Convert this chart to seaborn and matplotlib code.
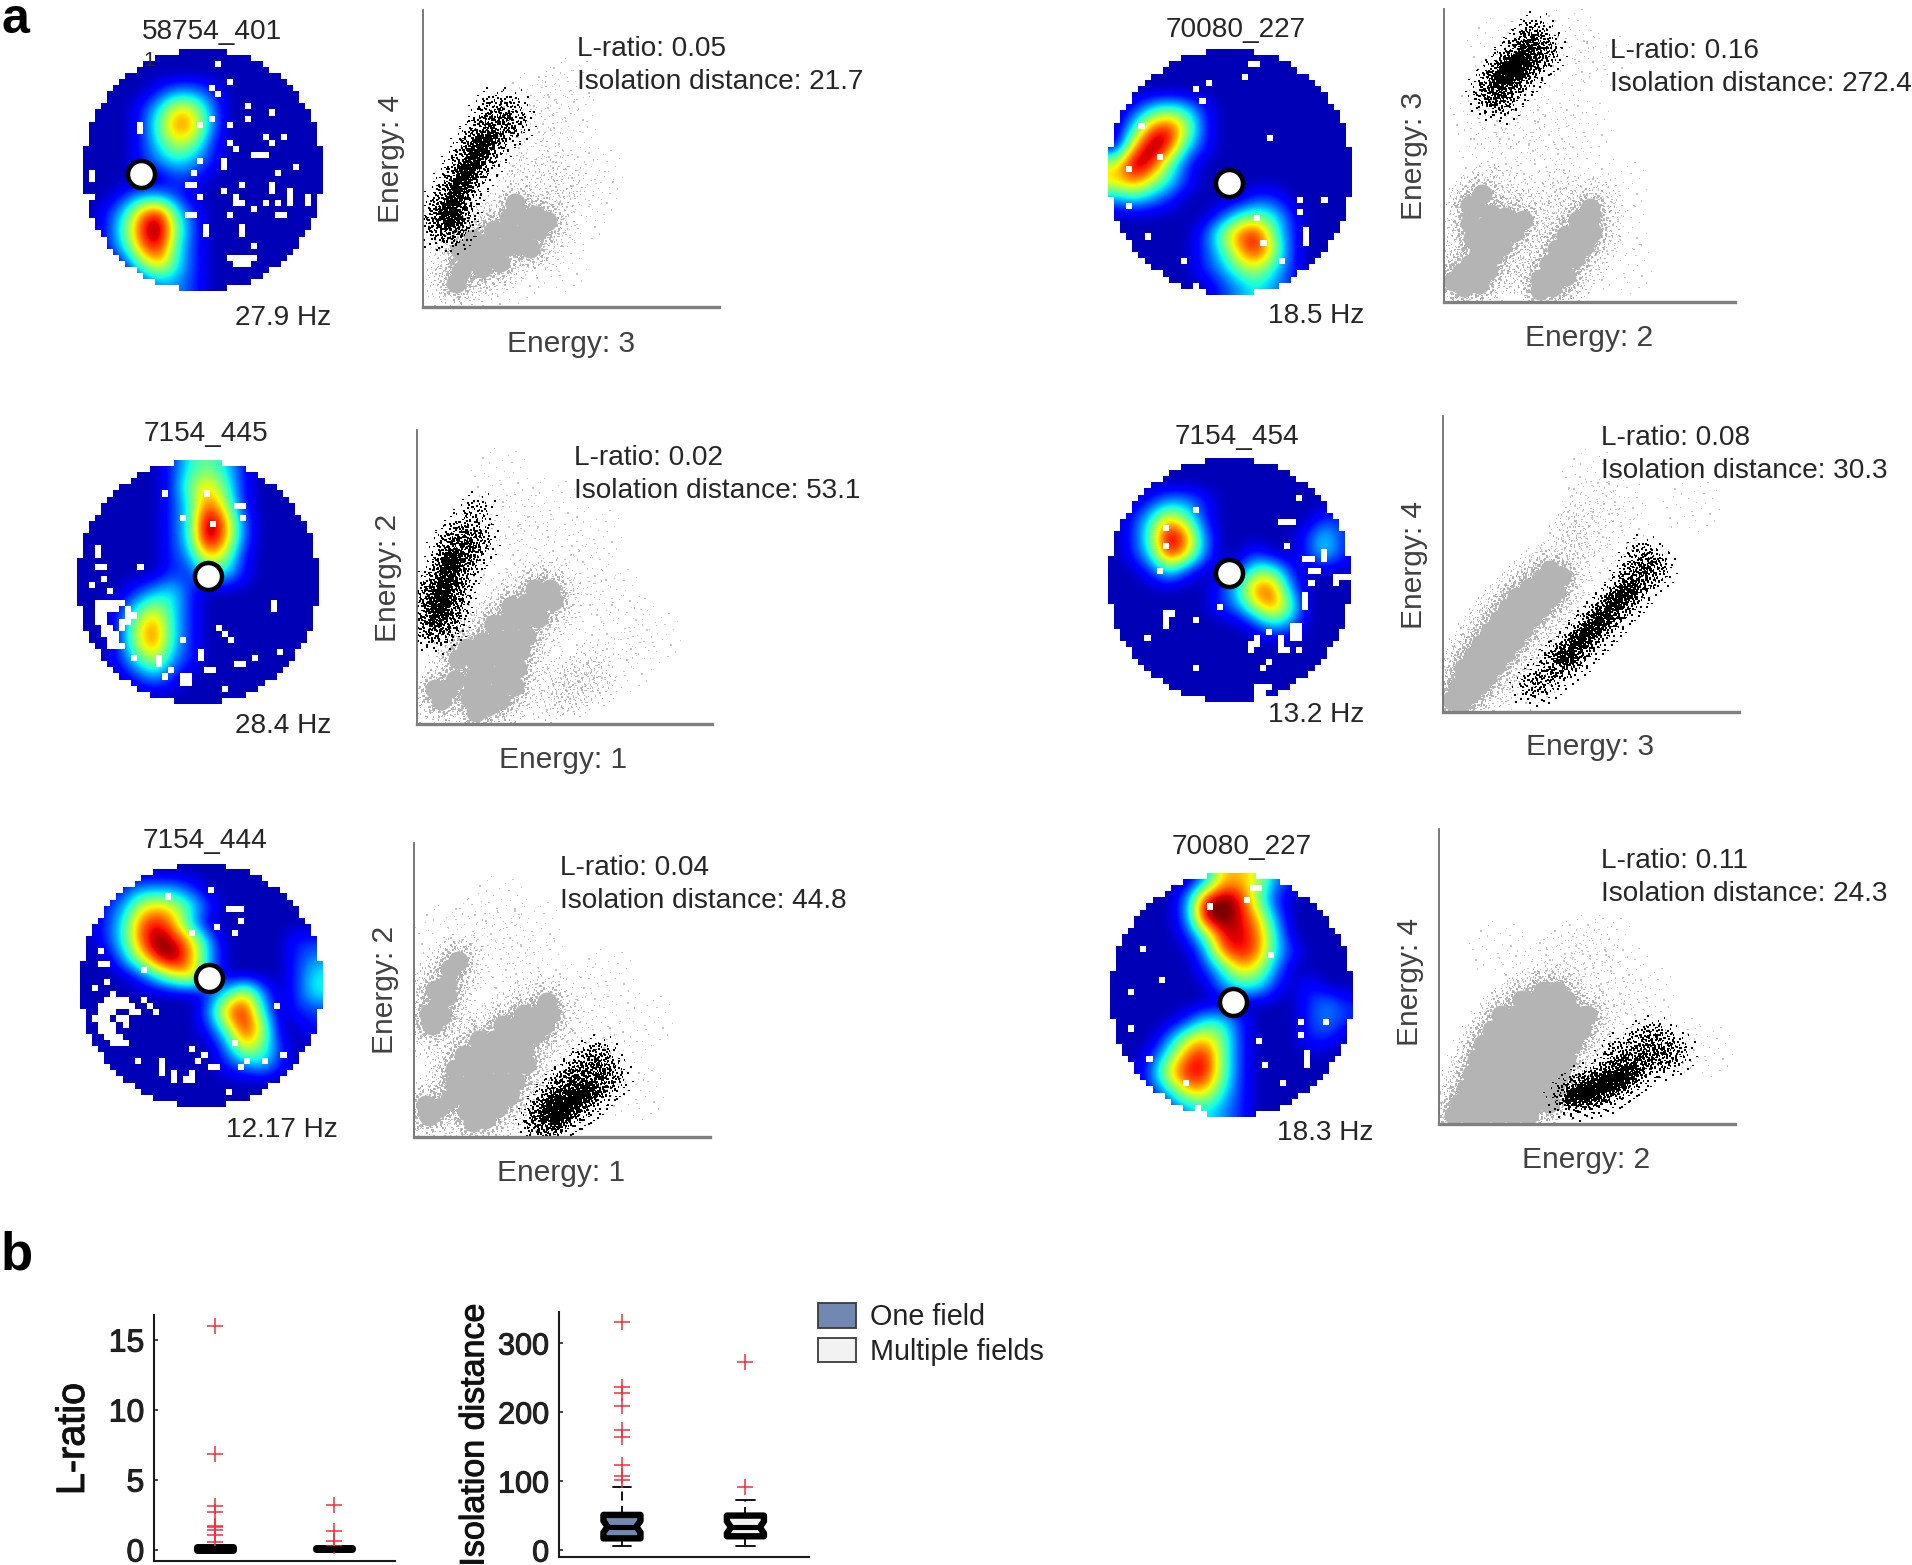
import matplotlib
matplotlib.use("Agg")
import matplotlib.patheffects as pe
import matplotlib.pyplot as plt
from matplotlib.colors import ListedColormap
from matplotlib.patches import Patch
from matplotlib.path import Path
import numpy as np
import pandas as pd
import seaborn as sns

W, H = 1912, 1565
PT = 100 / 72  # pixels per point at dpi 100
S = W / 1568

sns.set_theme(style="white")
plt.rcParams["font.family"] = ["Liberation Sans", "DejaVu Sans"]

# jet without its darkest navy end, bicubic ringing then stays background blue
RATE_CMAP = ListedColormap(plt.get_cmap("jet")(np.linspace(0.05, 1, 256)))

# ── rate maps: coarse grids, 0 = no firing, 9 = peak ──────────────────────────
MAP_1 = ["00000000000000", "00000000000000", "00001221000000", "00013652000000", "00014762000000",
         "00013541000000", "00012321000000", "00000110000000", "00122100000000", "01378310000000",
         "01489410000000", "01378310000000", "00146310000000", "00012210000000"]
MAP_2 = ["00000134310000", "00000146410000", "00000137510000", "00000139720000", "00000139720000",
         "00000126510000", "00000113310000", "00012310000000", "00135310000000", "00157310000000",
         "00157310000000", "00135210000000", "00012100000000", "00000000000000"]
MAP_3 = ["00000000000000", "00122210000000", "01256531000000", "01378620000000", "01379862000011",
         "00258962000012", "00013562000013", "00000001362013", "00000002783011", "00000001485001",
         "00000000264100", "00000000123100", "00000000000000", "00000000000000"]
MAP_4 = ["00000000000000", "00000000000000", "00000000000000", "01343100000000", "03785100000000",
         "06983100000000", "59841000000000", "67531000000000", "23210000110000", "00000013431000",
         "00000147841000", "00000136851000", "00000124531000", "00000012321000"]
MAP_5 = ["00000000000000", "00000000000000", "00122100000000", "01364100000011", "01497200000131",
         "01386200100131", "00131001441000", "00000013772000", "00000012574000", "00000000132000",
         "00000000000000", "00000000000000", "00000000000000", "00000000000000"]
MAP_6 = ["00000266521000", "00002898410000", "00002998620000", "00001488730000", "00000278731000",
         "00000136520000", "00000023310100", "00000000000121", "00001331000121", "00025641000110",
         "00147841000000", "00268841000000", "00136631000000", "00012321000000"]

# unvisited cells (col, row) on the 40 x 40 bin grid
HOLES_1 = [(22, 2), (24, 5), (21, 6), (22, 7), (27, 9), (31, 10), (27, 11), (9, 12), (9, 13), (21, 11), (24, 12),
           (19, 12), (30, 14), (33, 14), (31, 15), (24, 15), (25, 16), (28, 17), (29, 17), (30, 17), (19, 18),
           (23, 18), (23, 19), (35, 19), (1, 20), (1, 21), (18, 20), (17, 22), (18, 22), (32, 20), (31, 22),
           (26, 22), (23, 23), (19, 24), (1, 24), (25, 24), (25, 25), (26, 25), (31, 23), (30, 25), (32, 25),
           (34, 23), (34, 24), (34, 25), (37, 24), (37, 25), (28, 26), (17, 27), (18, 27), (24, 27), (32, 27),
           (33, 27), (26, 29), (26, 30), (20, 29), (20, 30), (28, 32), (24, 34), (25, 34), (26, 34), (27, 34),
           (28, 34), (25, 35), (26, 35), (27, 35)]
HOLES_2 = [(14, 5), (21, 5), (26, 7), (27, 7), (27, 9), (22, 10), (17, 9), (3, 14), (3, 15), (3, 17), (4, 17),
           (10, 17), (2, 20), (4, 19), (5, 21), (3, 23), (4, 23), (5, 23), (6, 23), (7, 23), (3, 24), (4, 24),
           (5, 24), (6, 24), (8, 24), (3, 25), (4, 25), (8, 25), (9, 25), (3, 26), (4, 26), (7, 26), (8, 26),
           (4, 27), (5, 27), (7, 27), (4, 28), (5, 28), (6, 28), (5, 29), (6, 29), (5, 30), (6, 30), (7, 30),
           (32, 23), (32, 24), (23, 27), (24, 28), (25, 29), (17, 29), (20, 31), (20, 32), (9, 32), (13, 32),
           (13, 33), (21, 34), (22, 34), (15, 34), (14, 35), (17, 35), (18, 35), (17, 36), (18, 36), (26, 33),
           (27, 33), (29, 32), (33, 31), (24, 37)]
HOLES_3 = [(14, 5), (21, 4), (24, 7), (25, 7), (26, 7), (26, 9), (22, 10), (18, 11), (25, 11), (3, 14), (3, 16),
           (4, 16), (10, 17), (2, 20), (4, 19), (5, 21), (4, 22), (5, 22), (6, 22), (7, 22), (3, 23), (4, 23),
           (5, 23), (6, 23), (7, 23), (8, 23), (3, 24), (4, 24), (5, 24), (8, 24), (9, 24), (2, 25), (3, 25),
           (4, 25), (6, 25), (7, 25), (3, 26), (4, 26), (5, 26), (7, 26), (3, 27), (4, 27), (5, 27), (4, 28),
           (5, 28), (6, 28), (5, 29), (6, 29), (7, 29), (10, 22), (11, 23), (12, 24), (32, 23), (18, 30),
           (9, 32), (13, 32), (13, 33), (13, 34), (15, 34), (15, 35), (18, 34), (18, 35), (17, 35), (20, 31),
           (19, 32), (21, 33), (22, 33), (27, 32), (26, 33), (30, 32), (33, 31), (24, 37), (25, 29)]
HOLES_4 = [(23, 2), (24, 2), (22, 4), (16, 5), (14, 6), (15, 8), (5, 12), (26, 14), (8, 17), (3, 19), (31, 24),
           (31, 26), (35, 24), (3, 25), (24, 27), (32, 29), (32, 30), (32, 31), (6, 30), (25, 31), (28, 34),
           (12, 34), (14, 38)]
HOLES_5 = [(31, 6), (14, 8), (28, 10), (29, 10), (30, 10), (9, 11), (9, 14), (29, 14), (35, 15), (35, 16), (32, 16),
           (33, 16), (8, 18), (33, 18), (34, 18), (37, 19), (38, 19), (39, 19), (37, 20), (33, 20), (32, 22),
           (32, 23), (32, 24), (18, 24), (9, 25), (10, 25), (9, 26), (9, 27), (14, 26), (30, 27), (31, 27), (30, 28),
           (31, 28), (30, 29), (31, 29), (28, 29), (28, 30), (28, 31), (29, 31), (24, 29), (24, 30), (23, 30),
           (23, 31), (26, 28), (31, 31), (6, 29), (26, 33), (25, 34), (14, 34), (24, 37), (25, 37), (26, 37),
           (24, 38), (25, 38)]
HOLES_6 = [(23, 2), (24, 2), (22, 4), (16, 5), (5, 12), (26, 13), (8, 17), (3, 19), (31, 24), (35, 24), (3, 25),
           (31, 26), (24, 27), (32, 29), (32, 30), (32, 31), (6, 30), (25, 31), (28, 34), (12, 34), (14, 38)]

# ring marker position on the same bin grid
CUE_X = [9.7, 21.7, 21.3, 19.8, 19.9, 20.2]
CUE_Y = [20.6, 19.0, 18.8, 21.8, 18.8, 21.2]

# ── cluster plots: points in percent of the axis ──────────────────────────────
P1_CORE = [(11, 8), (13, 12), (15, 15), (13, 19), (18, 18), (22, 17), (17, 23), (22, 22), (27, 20), (32, 21), (24, 26),
           (29, 25), (34, 25), (39, 26), (29, 30), (34, 30), (38, 31), (31, 35), (42, 29), (20, 13), (26, 15), (36, 20)]
P1_FUZZ = [(20, 10), (30, 14), (38, 20), (46, 26), (47, 36), (42, 40), (35, 45), (44, 48), (50, 42), (30, 47), (10, 22),
           (6, 15), (6, 8), (12, 4), (16, 8), (24, 9), (40, 36), (24, 33), (18, 30), (42, 18)]
P1_SPARSE = [(50, 55), (40, 58), (33, 62), (48, 66), (58, 45), (56, 38), (38, 52), (45, 72), (36, 70), (52, 30),
             (30, 10), (20, 4), (46, 14), (50, 75)]
P1_BLACK = [(6, 26), (8, 30), (6, 33), (10, 35), (13, 33), (8, 38), (12, 40), (15, 40), (11, 44), (15, 46), (18, 45),
            (14, 50), (18, 52), (21, 50), (17, 56), (21, 56), (24, 55), (20, 60), (24, 62), (27, 60), (23, 67), (29, 67),
            (31, 62), (10, 25), (5, 30), (12, 28)]
P1_BLACK_CORE = [(9, 33), (11, 37), (13, 41), (15, 45), (17, 49), (19, 53), (21, 56), (10, 30)]

P2_CORE = [(20, 4), (24, 6), (28, 8), (18, 9), (23, 11), (28, 12), (33, 13), (19, 15), (24, 17), (29, 18), (34, 19),
           (20, 21), (25, 23), (30, 24), (35, 25), (22, 28), (27, 29), (32, 30), (37, 30), (26, 34), (31, 35), (36, 36),
           (41, 36), (32, 40), (37, 41), (42, 41), (40, 46), (45, 46), (8, 8), (6, 12), (10, 12), (13, 15), (14, 22),
           (17, 26), (46, 42)]
P2_FUZZ = [(4, 7), (10, 5), (12, 20), (12, 27), (17, 33), (22, 34), (27, 40), (33, 46), (38, 50), (44, 51), (50, 45),
           (47, 37), (42, 30), (40, 22), (36, 12), (32, 6), (52, 14), (56, 13), (48, 9), (60, 17), (46, 15), (54, 8),
           (62, 12), (44, 6), (58, 22), (52, 10), (56, 17), (50, 18)]
P2_SPARSE = [(30, 55), (40, 62), (50, 58), (58, 52), (66, 45), (72, 35), (65, 25), (70, 20), (35, 70), (25, 70), (45, 75),
             (55, 40), (25, 45), (80, 30), (48, 30), (28, 85), (60, 65)]
P2_BLACK = [(4, 33), (7, 31), (5, 37), (8, 35), (11, 34), (6, 41), (9, 40), (12, 39), (7, 46), (10, 45), (13, 44),
            (8, 51), (11, 50), (14, 49), (10, 56), (13, 55), (16, 54), (11, 61), (15, 60), (18, 58), (14, 65), (18, 64),
            (21, 62), (20, 72), (4, 45)]
P2_BLACK_CORE = [(7, 38), (8, 42), (9, 46), (10, 50), (11, 54), (12, 56)]

P3_CORE = [(20, 5), (24, 6), (18, 9), (23, 10), (28, 10), (17, 14), (22, 14), (27, 14), (32, 14), (14, 18), (19, 18),
           (24, 19), (29, 19), (34, 19), (14, 23), (19, 23), (24, 24), (29, 24), (34, 24), (38, 25), (17, 28), (22, 29),
           (27, 29), (32, 29), (37, 30), (22, 33), (27, 33), (32, 34), (37, 34), (41, 35), (30, 38), (35, 38), (40, 38),
           (44, 38), (37, 42), (42, 42), (46, 42), (45, 46), (5, 7), (8, 10), (4, 11), (12, 13), (6, 38), (5, 42), (8, 45),
           (7, 50), (11, 52), (12, 57), (15, 60), (9, 41), (11, 48)]
P3_FUZZ = [(10, 28), (5, 32), (2, 38), (3, 46), (4, 52), (8, 58), (12, 62), (18, 62), (18, 54), (14, 46), (13, 37), (10, 20),
           (8, 16), (30, 44), (25, 40), (18, 36), (36, 48), (44, 50), (50, 44), (48, 34), (44, 28), (40, 20), (36, 14),
           (32, 8), (28, 4), (15, 5), (2, 5)]
P3_SPARSE = [(25, 60), (30, 68), (20, 72), (35, 55), (42, 60), (55, 50), (60, 40), (52, 35), (60, 30), (70, 25), (75, 15),
             (78, 40), (50, 22), (45, 15), (35, 5), (40, 72), (10, 70), (28, 80), (65, 55)]
P3_BLACK = [(42, 5), (45, 4), (46, 9), (43, 9), (49, 6), (49, 12), (46, 13), (52, 8), (52, 14), (49, 17), (55, 10), (55, 16),
            (52, 19), (58, 12), (58, 18), (55, 22), (61, 15), (61, 21), (58, 26), (64, 18), (64, 24), (67, 20), (62, 28), (46, 2)]
P3_BLACK_CORE = [(47, 8), (50, 10), (53, 12), (56, 14), (59, 16), (50, 7), (47, 11)]

P4_CORE = [(3, 7), (7, 5), (10, 9), (6, 10), (12, 6), (13, 12), (9, 13), (15, 11), (12, 17), (17, 16), (10, 22), (15, 21),
           (20, 19), (9, 27), (14, 26), (19, 25), (24, 24), (11, 32), (16, 30), (21, 29), (27, 28), (13, 37), (9, 33),
           (33, 4), (37, 5), (33, 8), (38, 9), (42, 9), (36, 13), (41, 14), (45, 15), (39, 18), (44, 19), (48, 19), (42, 23),
           (47, 24), (51, 24), (46, 28), (50, 29), (50, 32)]
P4_FUZZ = [(8, 38), (14, 42), (20, 35), (24, 33), (20, 41), (26, 38), (31, 33), (32, 24), (28, 20), (27, 14), (22, 12), (27, 8),
           (17, 7), (36, 36), (42, 33), (48, 38), (54, 37), (56, 30), (55, 22), (50, 12), (45, 6), (40, 3), (35, 30), (40, 40),
           (2, 14), (5, 20), (6, 28), (38, 24)]
P4_SPARSE = [(15, 50), (25, 50), (35, 48), (45, 45), (60, 40), (60, 25), (62, 12), (18, 60), (30, 60), (25, 65), (40, 70),
             (45, 85), (55, 83), (42, 92), (18, 88), (38, 56), (12, 65), (48, 60)]
P4_BLACK = [(15, 71), (18, 70), (16, 75), (20, 74), (23, 73), (19, 78), (22, 78), (26, 76), (22, 82), (26, 81), (29, 79),
            (25, 86), (29, 85), (32, 83), (29, 89), (33, 88), (35, 85), (31, 92), (20, 68)]
P4_BLACK_CORE = [(20, 76), (22, 78), (24, 80), (26, 82), (28, 84), (25, 79), (23, 82)]

P5_CORE = [(3, 4), (6, 3), (5, 8), (9, 6), (8, 11), (12, 9), (7, 15), (11, 14), (15, 12), (10, 19), (14, 18), (18, 16), (13, 23),
           (17, 22), (21, 20), (16, 27), (20, 26), (24, 24), (19, 31), (23, 30), (27, 28), (22, 35), (26, 34), (30, 32),
           (25, 39), (29, 38), (33, 35), (29, 42), (33, 41), (36, 39), (33, 45), (37, 44), (38, 41), (40, 46), (36, 48)]
P5_FUZZ = [(2, 12), (5, 18), (8, 24), (11, 29), (15, 34), (18, 38), (22, 42), (26, 46), (30, 50), (35, 52), (42, 54), (44, 48),
           (42, 42), (40, 36), (36, 30), (32, 26), (28, 20), (24, 14), (20, 9), (16, 6), (10, 3), (46, 58), (42, 62), (45, 66)]
P5_SPARSE = [(48, 62), (50, 70), (52, 74), (48, 54), (56, 60), (50, 48), (44, 32), (35, 22), (30, 12), (22, 6), (58, 72),
             (42, 55), (60, 65), (84, 70), (50, 80)]
P5_BLACK = [(37, 17), (40, 15), (41, 20), (44, 18), (44, 23), (47, 22), (47, 26), (50, 25), (50, 30), (53, 28), (53, 33), (56, 31),
            (56, 36), (59, 35), (59, 39), (62, 38), (62, 43), (65, 41), (64, 47), (68, 45), (70, 50), (67, 53), (72, 48),
            (34, 10), (30, 9)]
P5_BLACK_CORE = [(42, 19), (46, 24), (50, 28), (54, 32), (58, 37), (62, 41)]

P6_CORE = [(5, 3), (10, 3), (15, 3), (20, 3), (25, 3), (30, 3), (7, 7), (12, 7), (17, 7), (22, 7), (27, 7), (32, 7), (37, 7),
           (9, 12), (14, 12), (19, 12), (24, 12), (29, 12), (34, 12), (39, 12), (11, 17), (16, 17), (21, 17), (26, 17),
           (31, 17), (36, 17), (41, 17), (13, 22), (18, 22), (23, 22), (28, 22), (33, 22), (38, 22), (43, 22), (15, 27),
           (20, 27), (25, 27), (30, 27), (35, 27), (40, 27), (45, 27), (18, 32), (23, 32), (28, 32), (33, 32), (38, 32),
           (43, 32), (48, 32), (21, 37), (26, 37), (31, 37), (36, 37), (41, 37), (46, 37), (50, 37), (28, 42), (33, 42),
           (38, 42), (43, 42), (35, 45), (40, 45)]
P6_FUZZ = [(3, 3), (5, 10), (7, 16), (10, 22), (13, 28), (16, 33), (20, 40), (25, 44), (30, 47), (38, 49), (44, 47), (50, 42),
           (54, 37), (54, 30), (50, 24), (47, 18), (43, 12), (38, 6), (30, 3)]
P6_SPARSE = [(42, 52), (48, 50), (55, 47), (60, 40), (58, 30), (45, 60), (50, 62), (52, 55), (40, 56), (62, 52), (30, 55),
             (56, 62), (65, 35), (80, 28), (90, 25), (70, 45), (20, 60)]
P6_BLACK = [(43, 10), (46, 8), (47, 13), (50, 9), (50, 14), (53, 10), (54, 15), (57, 11), (57, 17), (60, 13), (60, 18), (63, 15),
            (63, 20), (66, 17), (66, 22), (69, 20), (72, 23), (75, 22), (76, 27), (72, 30), (68, 28), (60, 24), (80, 24)]
P6_BLACK_CORE = [(48, 10), (52, 11), (56, 13), (60, 15), (64, 17), (50, 12), (54, 14), (58, 15), (46, 9)]

# ── panel texts ───────────────────────────────────────────────────────────────
CELL_IDS = ["58754_401", "7154_445", "7154_444", "70080_227", "7154_454", "70080_227"]
PEAK_RATES = ["27.9 Hz", "28.4 Hz", "12.17 Hz", "18.5 Hz", "13.2 Hz", "18.3 Hz"]
L_RATIOS = ["0.05", "0.02", "0.04", "0.16", "0.08", "0.11"]
ISO_DISTS = ["21.7", "53.1", "44.8", "272.4", "30.3", "24.3"]
X_ENERGY = [3, 1, 1, 2, 3, 2]
Y_ENERGY = [4, 2, 2, 3, 4, 4]

# ── panel b ───────────────────────────────────────────────────────────────────
GROUPS = ["One field", "Multiple fields"]
GROUP_COLORS = ["#7188b0", "#f2f2f2"]
LRATIO_ONE = [0.01, 0.01, 0.02, 0.02, 0.02, 0.03, 0.03, 0.03, 0.03, 0.03, 0.03, 0.04, 0.04, 0.05, 0.06, 0.07, 0.07, 0.08, 0.08,
              0.08, 0.08, 0.09, 0.1, 0.11, 0.12, 0.13, 0.14, 0.16, 0.18, 0.19, 0.2, 0.25, 0.6, 1.1, 1.4, 1.65, 1.75, 2.75,
              3.15, 6.85, 16.0]
LRATIO_MULTI = [0.01, 0.02, 0.03, 0.03, 0.05, 0.06, 0.07, 0.08, 0.09, 0.1, 0.12, 0.14, 0.15, 0.16, 0.3, 0.65, 1.35, 3.2]
ISO_ONE = [6, 9, 11, 12, 13, 14, 15, 15, 16, 16, 17, 19, 21, 23, 25, 26, 28, 29, 31, 33, 34, 36, 37, 39, 41, 43, 44, 46, 48, 49,
           51, 92, 102, 108, 124, 164, 174, 209, 227, 236, 330]
ISO_MULTI = [6, 10, 12, 14, 16, 17, 19, 20, 22, 24, 26, 28, 30, 31, 33, 35, 37, 39, 42, 45, 48, 50, 52, 55, 60, 66, 72, 91, 273]

# positions on the page, in reference pixels: left, top, right, bottom
MAP_BOXES = [(83, 49, 323, 291), (77, 460, 319, 704), (80, 864, 323, 1107),
             (1108, 49, 1352, 295), (1108, 458, 1351, 702), (1110, 873, 1353, 1117)]
CLUSTER_BOXES = [(423, 10, 719, 307), (417, 430, 712, 724), (414, 843, 710, 1137),
                 (1444, 9, 1735, 302), (1443, 416, 1739, 712), (1439, 829, 1735, 1124)]
TITLE_POS = [(174, 26), (169, 356), (168, 690), (1013, 25), (1014, 358), (1018, 695)]
RATE_POS = [(232, 261), (232, 595), (231, 927), (1079, 259), (1079, 586), (1087, 929)]
STATS_POS = [(473, 40), (471, 376), (459, 712), (1320, 42), (1313, 359), (1313, 706)]
XLABEL_POS = [(468, 282), (462, 623), (460, 962), (1303, 277), (1304, 613), (1301, 951)]
YLABEL_POS = [(321, 130), (318, 474), (316, 812), (1160, 128), (1160, 463), (1156, 805)]

# irregular dot pattern used as a marker, so a typed point reads as a patch of spikes
STENCIL_X = [-.92, -.71, -.55, -.38, -.18, .03, .27, .49, .66, .88, -.81, -.6, -.33, -.09, .14, .39, .58, .79,
             -.46, -.24, .07, .31, .52, -.66, -.12, .21, .44, -.3, .0, .72, -.5, .12]
STENCIL_Y = [.11, -.42, .52, -.08, .83, -.33, .61, -.67, .2, -.15, -.09, .28, .36, -.74, .09, .37, -.29, .46,
             -.58, -.37, .45, -.12, .74, -.71, .22, -.86, .05, .69, -.21, -.52, .02, -.5]


def speckle_marker(half):
    rects = []
    for x0, y0 in zip(STENCIL_X, STENCIL_Y):
        rects.append(Path([(x0 - half, y0 - half), (x0 + half, y0 - half), (x0 + half, y0 + half),
                           (x0 - half, y0 + half), (x0 - half, y0 - half)], closed=True))
    return Path.make_compound_path(*rects)


SPECKLE_FINE = speckle_marker(0.02)
SPECKLE = speckle_marker(0.035)
SPECKLE_MID = speckle_marker(0.07)
SPECKLE_DENSE = speckle_marker(0.11)


def dot(px):
    return (px / PT) ** 2


def page_axes(box):
    left, top, right, bottom = box
    return fig.add_axes([left / W, 1 - bottom / H, (right - left) / W, (bottom - top) / H])


def label(x, y, txt, size=20.2, color="#262626", **kw):
    kw.setdefault("va", "center")
    return fig.text(x * S / W, 1 - y * S / H, txt, fontsize=size, color=color, **kw)


def draw_map(ax, rows, holes, cue_x, cue_y):
    grid = np.array([[int(c) for c in r] for r in rows], dtype=float)
    ax.imshow(grid, cmap=RATE_CMAP, vmin=0, vmax=8.6, interpolation="bicubic", extent=(0, 40, 40, 0), aspect="auto")
    # blank everything off the arena and the unvisited bins
    cc, rr = np.meshgrid(np.arange(40) + 0.5, np.arange(40) + 0.5)
    blank = ((cc - 20) ** 2 + (rr - 20) ** 2) > 20 ** 2
    for col, row in holes:
        blank[row, col] = True
    overlay = np.ones((40, 40, 4))
    overlay[..., 3] = blank.astype(float)
    ax.imshow(overlay, interpolation="nearest", extent=(0, 40, 40, 0), aspect="auto")
    sns.scatterplot(x=[cue_x], y=[cue_y], ax=ax, s=dot(27), color="white", edgecolor="black", linewidth=3.2, legend=False)
    ax.set_xlim(0, 40)
    ax.set_ylim(40, 0)
    ax.set_axis_off()


def draw_cluster(ax, core, fuzz, sparse, black, black_core):
    layers = [(sparse, SPECKLE_FINE, dot(58), "#c4c4c4"), (fuzz, SPECKLE, dot(36), "#b8b8b8"),
              (core, SPECKLE_FINE, dot(60), "#b8b8b8"), (core, SPECKLE, dot(44), "#b0b0b0"),
              (core, SPECKLE_MID, dot(32), "#b4b4b4"), (core, "o", dot(20), "#b4b4b4"),
              (black, SPECKLE, dot(46), "black"), (black, SPECKLE_MID, dot(26), "black"),
              (black_core, SPECKLE_DENSE, dot(22), "black"), (black_core, SPECKLE_DENSE, dot(15), "black")]
    for pts, marker, size, color in layers:
        df = pd.DataFrame(pts, columns=["x", "y"])
        sns.scatterplot(data=df, x="x", y="y", ax=ax, marker=marker, s=size, color=color, linewidth=0, legend=False)
    ax.set_xlim(0, 100)
    ax.set_ylim(0, 100)
    ax.set_xticks([])
    ax.set_yticks([])
    ax.set_xlabel("")
    ax.set_ylabel("")
    ax.patch.set_alpha(0)
    sns.despine(ax=ax)
    ax.spines["left"].set(color="#6e6e6e", linewidth=1.3)
    ax.spines["bottom"].set(color="#808080", linewidth=2.4)


def draw_box(ax, one, multi, box_lw, notch, limits):
    df = pd.DataFrame({"group": [GROUPS[0]] * len(one) + [GROUPS[1]] * len(multi), "value": list(one) + list(multi)})
    sns.boxplot(data=df, x="group", y="value", hue="group", palette=GROUP_COLORS, order=GROUPS, hue_order=GROUPS, ax=ax,
                width=0.3, gap=0, dodge=False, saturation=1, notch=notch, whis=1.25, linecolor="black", linewidth=1.3,
                boxprops={"linewidth": box_lw}, medianprops={"linewidth": box_lw * 0.8},
                whiskerprops={"linestyle": (0, (5, 3))},
                flierprops={"marker": "+", "markersize": 11, "markeredgecolor": "#f0303c", "markeredgewidth": 1.1},
                legend=False)
    for patch in ax.patches:
        patch.set_joinstyle("round")
    if notch:
        # shallower waist than matplotlib's default, median bar runs to the outline
        meds = [np.median(one), np.median(multi)]
        for patch in ax.patches:
            v = patch.get_path().vertices
            mid = (v[:, 0].min() + v[:, 0].max()) / 2
            half = (v[:, 0].max() - v[:, 0].min()) / 2
            waist = np.abs(v[:, 0] - mid) < 0.75 * half
            v[waist, 0] = mid + np.sign(v[waist, 0] - mid) * half * 0.78
        for line in ax.lines:
            xd, yd = line.get_data()
            if len(xd) == 2 and yd[0] == yd[1] and yd[0] in meds:
                mid = (xd[0] + xd[1]) / 2
                line.set_xdata([mid - 0.12, mid + 0.12])
    ax.set_xlim(-0.51, 1.515)
    ax.set_ylim(*limits)
    ax.set_xticks([])
    ax.set_xlabel("")
    ax.set_ylabel("")
    sns.despine(ax=ax)
    for side in ["left", "bottom"]:
        ax.spines[side].set(color="#1a1a1a", linewidth=1.5)


fig = plt.figure(figsize=(W / 100, H / 100), dpi=100)

maps = [MAP_1, MAP_2, MAP_3, MAP_4, MAP_5, MAP_6]
holes = [HOLES_1, HOLES_2, HOLES_3, HOLES_4, HOLES_5, HOLES_6]
clusters = [(P1_CORE, P1_FUZZ, P1_SPARSE, P1_BLACK, P1_BLACK_CORE), (P2_CORE, P2_FUZZ, P2_SPARSE, P2_BLACK, P2_BLACK_CORE),
            (P3_CORE, P3_FUZZ, P3_SPARSE, P3_BLACK, P3_BLACK_CORE), (P4_CORE, P4_FUZZ, P4_SPARSE, P4_BLACK, P4_BLACK_CORE),
            (P5_CORE, P5_FUZZ, P5_SPARSE, P5_BLACK, P5_BLACK_CORE), (P6_CORE, P6_FUZZ, P6_SPARSE, P6_BLACK, P6_BLACK_CORE)]

for i in range(6):
    draw_map(page_axes(MAP_BOXES[i]), maps[i], holes[i], CUE_X[i], CUE_Y[i])
    draw_cluster(page_axes(CLUSTER_BOXES[i]), *clusters[i])

    label(TITLE_POS[i][0], TITLE_POS[i][1], CELL_IDS[i], ha="center")
    label(RATE_POS[i][0], RATE_POS[i][1], PEAK_RATES[i], ha="center")
    label(STATS_POS[i][0], STATS_POS[i][1], f"L-ratio: {L_RATIOS[i]}")
    label(STATS_POS[i][0], STATS_POS[i][1] + 27, f"Isolation distance: {ISO_DISTS[i]}")
    label(XLABEL_POS[i][0], XLABEL_POS[i][1], f"Energy: {X_ENERGY[i]}", size=21.5, color="#404040", ha="center")
    label(YLABEL_POS[i][0], YLABEL_POS[i][1], f"Energy: {Y_ENERGY[i]}", size=21.5, color="#404040", ha="center", rotation=90)

label(122, 50, "1", size=15, ha="center")
label(12.5, 27, "a", size=36, color="black", ha="center", va="baseline", fontweight="bold")
label(14, 1041, "b", size=38, color="black", ha="center", va="baseline", fontweight="bold")

# ── panel b ───────────────────────────────────────────────────────────────────
heavy = [pe.withStroke(linewidth=0.7, foreground="#111111")]

ax_l = page_axes((154, 1315, 395, 1561))
draw_box(ax_l, LRATIO_ONE, LRATIO_MULTI, 5.0, False, (-0.786, 16.79))
ax_l.set_yticks([0, 5, 10, 15])
ax_l.tick_params(axis="y", labelsize=23, direction="in", length=3, width=1.2, left=True, pad=7, labelcolor="#222222")

ax_i = page_axes((559, 1312, 809, 1557))
draw_box(ax_i, ISO_ONE, ISO_MULTI, 4.6, True, (-10, 345))
ax_i.set_yticks([0, 100, 200, 300])
ax_i.tick_params(axis="y", labelsize=22, direction="in", length=3, width=1.2, left=True, pad=7, labelcolor="#222222")

for tick in ax_l.get_yticklabels() + ax_i.get_yticklabels():
    tick.set_path_effects(heavy)

label(73 / S, 1439 / S, "L-ratio", size=28.5, color="#111111", ha="center", rotation=90, path_effects=heavy)
label(475 / S, 1435 / S, "Isolation distance", size=24.5, color="#111111", ha="center", rotation=90, path_effects=heavy)

handles = [Patch(facecolor=c, edgecolor="#3a3a3a", linewidth=1.3) for c in GROUP_COLORS]
fig.legend(handles, GROUPS, loc="upper left", bbox_to_anchor=(818 / W, 1 - 1303 / H), frameon=False, fontsize=20.7,
           handlelength=1.32, handleheight=0.94, handletextpad=0.5, labelspacing=0.22, borderpad=0, borderaxespad=0,
           labelcolor="#222222")

fig.savefig("out.png", dpi=100)
